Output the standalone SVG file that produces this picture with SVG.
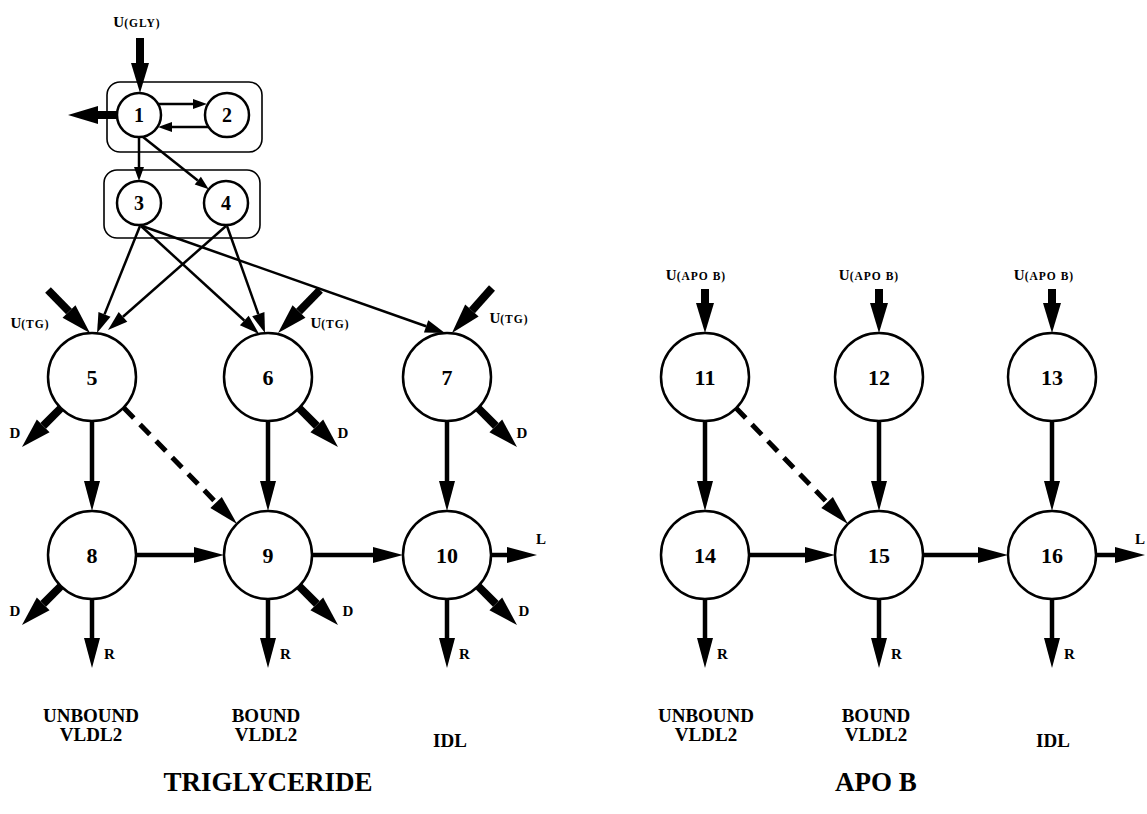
<svg xmlns="http://www.w3.org/2000/svg" width="1147" height="814" viewBox="0 0 1147 814">
<defs>
<style>
.node circle{fill:#fff;stroke:#000;stroke-width:2.5}
.box{fill:none;stroke:#000;stroke-width:1.6}
text{font-family:"Liberation Serif","Times New Roman",serif;font-weight:bold;fill:#000}
.nl{font-size:20px;text-anchor:middle}
.nb{font-size:22px;text-anchor:middle}
.thin{stroke:#000;stroke-width:2.5;fill:none;marker-end:url(#mThin)}
.med{stroke:#000;stroke-width:2.5;fill:none;marker-end:url(#mMed)}
.flow{stroke:#000;stroke-width:4.5;fill:none;marker-end:url(#mFlow)}
.dash{stroke:#000;stroke-width:5;fill:none;stroke-dasharray:14 9;marker-end:url(#mFlow)}
.heavy{stroke:#000;stroke-width:8;fill:none;marker-end:url(#mHeavy)}
.sm{font-size:15px}
.u{font-size:15px}
.us{font-size:11.5px;letter-spacing:1px}
.lab{font-size:19px;text-anchor:middle}
.title{font-size:27px;text-anchor:middle}
</style>
<marker id="mThin" markerUnits="userSpaceOnUse" orient="auto" refX="0" refY="0" markerWidth="40" markerHeight="40" viewBox="0 -20 40 40" overflow="visible"><path d="M0,-5 L14,0 L0,5 z"/></marker>
<marker id="mMed" markerUnits="userSpaceOnUse" orient="auto" refX="0" refY="0" markerWidth="40" markerHeight="40" viewBox="0 -20 40 40" overflow="visible"><path d="M0,-6.5 L20,0 L0,6.5 z"/></marker>
<marker id="mFlow" markerUnits="userSpaceOnUse" orient="auto" refX="0" refY="0" markerWidth="40" markerHeight="40" viewBox="0 -20 40 40" overflow="visible"><path d="M0,-8 L30,0 L0,8 z"/></marker>
<marker id="mHeavy" markerUnits="userSpaceOnUse" orient="auto" refX="0" refY="0" markerWidth="40" markerHeight="40" viewBox="0 -20 40 40" overflow="visible"><path d="M0,-9 L30,0 L0,9 z"/></marker>
</defs>
<rect width="1147" height="814" fill="#fff"/>

<g id="compartments">
<rect class="box" x="107" y="82" width="155" height="70" rx="13"/>
<rect class="box" x="104" y="170" width="156" height="68" rx="13"/>
</g>

<g id="connectors">
<line class="heavy" x1="140" y1="38" x2="140" y2="63"/>
<line class="heavy" x1="117" y1="115" x2="98" y2="115"/>
<line class="thin" x1="158" y1="104" x2="193" y2="104"/>
<line class="thin" x1="208" y1="127" x2="172" y2="127"/>
<line class="thin" x1="139" y1="137" x2="139" y2="167"/>
<line class="thin" x1="143" y1="137" x2="197.8" y2="180.6"/>
<line class="med" x1="140" y1="226" x2="104.5" y2="314.4"/>
<line class="med" x1="226" y1="226" x2="123" y2="316.8"/>
<line class="med" x1="141" y1="226" x2="244.3" y2="320.5"/>
<line class="med" x1="227" y1="226" x2="258.3" y2="314.1"/>
<line class="med" x1="142" y1="226" x2="426.1" y2="326.3"/>
<line class="heavy" x1="48" y1="290" x2="69" y2="311.5"/>
<line class="heavy" x1="320" y1="290" x2="299" y2="311.5"/>
<line class="heavy" x1="492" y1="288" x2="471.9" y2="310.6"/>
<line class="heavy" x1="61" y1="408" x2="43.2" y2="425.8"/>
<line class="heavy" x1="299" y1="408" x2="316.8" y2="425.8"/>
<line class="heavy" x1="478" y1="408" x2="495.8" y2="425.8"/>
<line class="heavy" x1="61" y1="586" x2="43.2" y2="603.8"/>
<line class="heavy" x1="299" y1="586" x2="316.8" y2="603.8"/>
<line class="heavy" x1="478" y1="586" x2="495.8" y2="603.8"/>
<line class="flow" x1="92" y1="421" x2="92" y2="481"/>
<line class="flow" x1="268" y1="421" x2="268" y2="481"/>
<line class="flow" x1="447" y1="421" x2="447" y2="481"/>
<line class="dash" x1="124" y1="408" x2="216.1" y2="502.5"/>
<line class="flow" x1="136" y1="555" x2="194" y2="555"/>
<line class="flow" x1="312" y1="555" x2="373" y2="555"/>
<line class="flow" x1="491" y1="555" x2="507" y2="555"/>
<line class="flow" x1="92" y1="599" x2="92" y2="638"/>
<line class="flow" x1="268" y1="599" x2="268" y2="638"/>
<line class="flow" x1="447" y1="599" x2="447" y2="638"/>
<line class="heavy" x1="705" y1="289" x2="705" y2="303"/>
<line class="heavy" x1="879" y1="289" x2="879" y2="303"/>
<line class="heavy" x1="1052" y1="289" x2="1052" y2="303"/>
<line class="flow" x1="705" y1="421" x2="705" y2="481"/>
<line class="flow" x1="879" y1="421" x2="879" y2="481"/>
<line class="flow" x1="1052" y1="421" x2="1052" y2="481"/>
<line class="dash" x1="736" y1="408" x2="827.1" y2="502.5"/>
<line class="flow" x1="749" y1="555" x2="805" y2="555"/>
<line class="flow" x1="923" y1="555" x2="978" y2="555"/>
<line class="flow" x1="1096" y1="555" x2="1115" y2="555"/>
<line class="flow" x1="705" y1="599" x2="705" y2="638"/>
<line class="flow" x1="879" y1="599" x2="879" y2="638"/>
<line class="flow" x1="1052" y1="599" x2="1052" y2="638"/>
</g>

<g id="node1" class="node"><circle cx="139" cy="115" r="22"/><text class="nl" x="139" y="122">1</text></g>
<g id="node2" class="node"><circle cx="227" cy="115" r="22"/><text class="nl" x="227" y="122">2</text></g>
<g id="node3" class="node"><circle cx="139" cy="203" r="22"/><text class="nl" x="139" y="210">3</text></g>
<g id="node4" class="node"><circle cx="226" cy="203" r="22"/><text class="nl" x="226" y="210">4</text></g>
<g id="node5" class="node"><circle cx="92" cy="377" r="44"/><text class="nb" x="92" y="385">5</text></g>
<g id="node6" class="node"><circle cx="268" cy="377" r="44"/><text class="nb" x="268" y="385">6</text></g>
<g id="node7" class="node"><circle cx="447" cy="377" r="44"/><text class="nb" x="447" y="385">7</text></g>
<g id="node8" class="node"><circle cx="92" cy="555" r="44"/><text class="nb" x="92" y="563">8</text></g>
<g id="node9" class="node"><circle cx="268" cy="555" r="44"/><text class="nb" x="268" y="563">9</text></g>
<g id="node10" class="node"><circle cx="447" cy="555" r="44"/><text class="nb" x="447" y="563">10</text></g>
<g id="node11" class="node"><circle cx="705" cy="377" r="44"/><text class="nb" x="705" y="385">11</text></g>
<g id="node12" class="node"><circle cx="879" cy="377" r="44"/><text class="nb" x="879" y="385">12</text></g>
<g id="node13" class="node"><circle cx="1052" cy="377" r="44"/><text class="nb" x="1052" y="385">13</text></g>
<g id="node14" class="node"><circle cx="705" cy="555" r="44"/><text class="nb" x="705" y="563">14</text></g>
<g id="node15" class="node"><circle cx="879" cy="555" r="44"/><text class="nb" x="879" y="563">15</text></g>
<g id="node16" class="node"><circle cx="1052" cy="555" r="44"/><text class="nb" x="1052" y="563">16</text></g>

<g id="labels">
<text x="137" y="27" text-anchor="middle"><tspan class="u">U</tspan><tspan class="us">(GLY)</tspan></text>
<text x="30" y="328" text-anchor="middle"><tspan class="u">U</tspan><tspan class="us">(TG)</tspan></text>
<text x="330" y="328" text-anchor="middle"><tspan class="u">U</tspan><tspan class="us">(TG)</tspan></text>
<text x="509" y="323" text-anchor="middle"><tspan class="u">U</tspan><tspan class="us">(TG)</tspan></text>
<text x="696" y="280" text-anchor="middle"><tspan class="u">U</tspan><tspan class="us">(APO B)</tspan></text>
<text x="869" y="280" text-anchor="middle"><tspan class="u">U</tspan><tspan class="us">(APO B)</tspan></text>
<text x="1044" y="280" text-anchor="middle"><tspan class="u">U</tspan><tspan class="us">(APO B)</tspan></text>
<text class="sm" x="15" y="438" text-anchor="middle">D</text>
<text class="sm" x="343" y="438" text-anchor="middle">D</text>
<text class="sm" x="522" y="438" text-anchor="middle">D</text>
<text class="sm" x="15" y="616" text-anchor="middle">D</text>
<text class="sm" x="348" y="616" text-anchor="middle">D</text>
<text class="sm" x="524" y="616" text-anchor="middle">D</text>
<text class="sm" x="536" y="544">L</text>
<text class="sm" x="1135" y="544">L</text>
<text class="sm" x="104" y="659">R</text>
<text class="sm" x="280" y="659">R</text>
<text class="sm" x="459" y="659">R</text>
<text class="sm" x="717" y="659">R</text>
<text class="sm" x="891" y="659">R</text>
<text class="sm" x="1064" y="659">R</text>
<text class="lab" x="91" y="722">UNBOUND</text>
<text class="lab" x="91" y="741">VLDL2</text>
<text class="lab" x="266" y="722">BOUND</text>
<text class="lab" x="266" y="741">VLDL2</text>
<text class="lab" x="450" y="747">IDL</text>
<text class="lab" x="706" y="722">UNBOUND</text>
<text class="lab" x="706" y="741">VLDL2</text>
<text class="lab" x="876" y="722">BOUND</text>
<text class="lab" x="876" y="741">VLDL2</text>
<text class="lab" x="1053" y="747">IDL</text>
<text class="title" x="268" y="791">TRIGLYCERIDE</text>
<text class="title" x="876" y="791">APO B</text>
</g>
</svg>
